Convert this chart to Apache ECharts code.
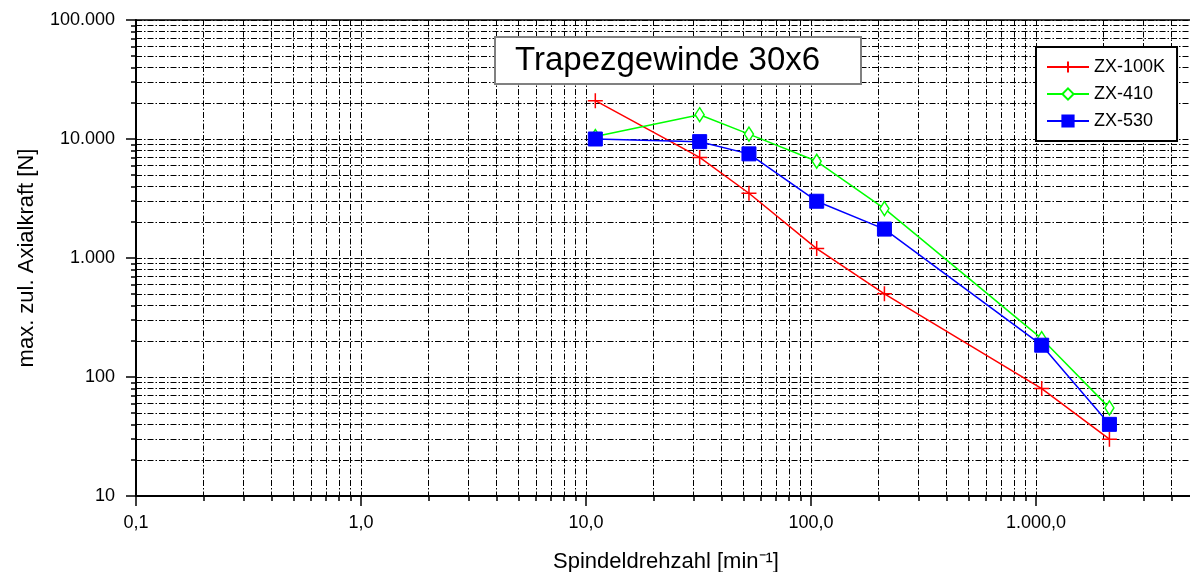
<!DOCTYPE html>
<html>
<head>
<meta charset="utf-8">
<script src="https://cdn.jsdelivr.net/npm/echarts@6/dist/echarts.min.js"></script>
<style>html,body{margin:0;padding:0;background:#fff;}#c{width:1190px;height:572px;}</style>
</head>
<body>
<div id="c"></div>
<script>
// ---- data ----
const speeds = [11, 32, 53, 106, 212, 1060, 2120];
const zx100k = [21000, 7000, 3500, 1200, 500, 80, 30];
const zx410  = [10500, 16000, 11000, 6500, 2600, 210, 55];
const zx530  = [10000, 9500, 7500, 3000, 1750, 185, 40];
const seriesNames = ['ZX-100K', 'ZX-410', 'ZX-530'];
const xMajor = [0.1, 1, 10, 100, 1000, 10000];
const xTickLabels = ['0,1', '1,0', '10,0', '100,0', '1.000,0', '10.000,0'];
const yMajor = [10, 100, 1000, 10000, 100000];
const yTickLabels = ['10', '100', '1.000', '10.000', '100.000'];
const chartTitle = 'Trapezgewinde 30x6';
const xName = 'Spindeldrehzahl [min⁻¹]';
const yName = 'max. zul. Axialkraft [N]';

function minors(lo, hi) {
  const out = [];
  for (let d = lo; d < hi; d *= 10) {
    for (let k = 2; k <= 9; k++) out.push(+(d * k).toPrecision(6));
  }
  return out;
}
const xMinor = minors(0.1, 10000);
const yMinor = minors(10, 100000);

const FONT = '"Liberation Sans", Arial, sans-serif';
const dashDot = [6, 2, 1.5, 2];
const gridLine = { show: true, lineStyle: { color: '#000', width: 1, type: dashDot } };

function xLabel(v) { return xTickLabels[Math.round(Math.log10(v)) + 1]; }
function yLabel(v) { return yTickLabels[Math.round(Math.log10(v)) - 1]; }

const chart = echarts.init(document.getElementById('c'), null, { renderer: 'canvas' });
const option = {
  animation: false,
  backgroundColor: '#fff',
  textStyle: { fontFamily: FONT },
  grid: { left: 136, top: 20, width: 1125, bottom: 76, show: true, borderColor: '#000', borderWidth: 1.5,
          containLabel: false, outerBoundsMode: 'none' },
  xAxis: [
    {
      type: 'log', min: 0.1, max: 10000, position: 'bottom',
      axisLine: { show: true, lineStyle: { color: '#000', width: 2 } },
      axisTick: { show: true, length: 10, lineStyle: { color: '#000', width: 1.5 }, customValues: xMajor },
      axisLabel: { show: true, customValues: xMajor, formatter: xLabel, color: '#000', fontSize: 18, fontFamily: FONT, margin: 18 },
      splitLine: gridLine
    },
    {
      type: 'log', min: 0.1, max: 10000, position: 'bottom',
      axisLine: { show: false },
      axisTick: { show: true, length: 5, lineStyle: { color: '#000', width: 1.5 }, customValues: xMinor },
      axisLabel: { show: false },
      splitLine: gridLine
    }
  ],
  yAxis: [
    {
      type: 'log', min: 10, max: 100000, position: 'left',
      name: yName, nameLocation: 'middle', nameGap: 98, nameRotate: 90,
      nameTextStyle: { color: '#000', fontSize: 22, fontFamily: FONT },
      axisLine: { show: true, lineStyle: { color: '#000', width: 2 } },
      axisTick: { show: true, length: 10, lineStyle: { color: '#000', width: 1.5 }, customValues: yMajor },
      axisLabel: { show: true, customValues: yMajor, formatter: yLabel, color: '#000', fontSize: 18, fontFamily: FONT, margin: 21 },
      splitLine: gridLine
    },
    {
      type: 'log', min: 10, max: 100000, position: 'left',
      axisLine: { show: false },
      axisTick: { show: true, length: 5, lineStyle: { color: '#000', width: 1.5 }, customValues: yMinor },
      axisLabel: { show: false },
      splitLine: gridLine
    }
  ],
  legend: {
    orient: 'vertical', left: 1036, top: 47,
    padding: [11, 12, 11, 10], itemGap: 9, itemWidth: 42, itemHeight: 14,
    backgroundColor: '#fff', borderColor: '#000', borderWidth: 2, borderRadius: 0,
    textStyle: { color: '#000', fontSize: 18, fontFamily: FONT },
    data: seriesNames
  },
  graphic: [
    {
      type: 'rect', shape: { x: 495, y: 37, width: 366, height: 47 },
      style: { fill: '#fff', stroke: '#808080', lineWidth: 2 }, z: 100
    },
    {
      type: 'text', x: 515, y: 61, z: 101,
      style: { text: chartTitle, fill: '#000', font: '33px ' + FONT, textVerticalAlign: 'middle' }
    },
    {
      type: 'text', x: 666, y: 562, z: 101,
      style: { text: xName, fill: '#000', font: '22px ' + FONT, textAlign: 'center', textVerticalAlign: 'middle' }
    }
  ],
  series: [
    {
      name: seriesNames[0], type: 'line', xAxisIndex: 0, yAxisIndex: 0,
      data: speeds.map((x, i) => [x, zx100k[i]]),
      lineStyle: { color: '#ff0000', width: 1.5 },
      symbol: 'path://M5,0L5,10M0,5L10,5', symbolSize: 15,
      itemStyle: { color: '#ff0000', borderColor: '#ff0000', borderWidth: 1.5 }
    },
    {
      name: seriesNames[1], type: 'line', xAxisIndex: 0, yAxisIndex: 0,
      data: speeds.map((x, i) => [x, zx410[i]]),
      lineStyle: { color: '#00ff00', width: 1.5 },
      symbol: 'diamond', symbolSize: [9, 14],
      itemStyle: { color: '#fff', borderColor: '#00ff00', borderWidth: 1.5 }
    },
    {
      name: seriesNames[2], type: 'line', xAxisIndex: 0, yAxisIndex: 0,
      data: speeds.map((x, i) => [x, zx530[i]]),
      lineStyle: { color: '#0000ff', width: 1.5 },
      symbol: 'rect', symbolSize: 14,
      itemStyle: { color: '#0000ff', borderColor: '#0000ff', borderWidth: 1 }
    }
  ]
};
chart.setOption(option);
</script>
</body>
</html>
